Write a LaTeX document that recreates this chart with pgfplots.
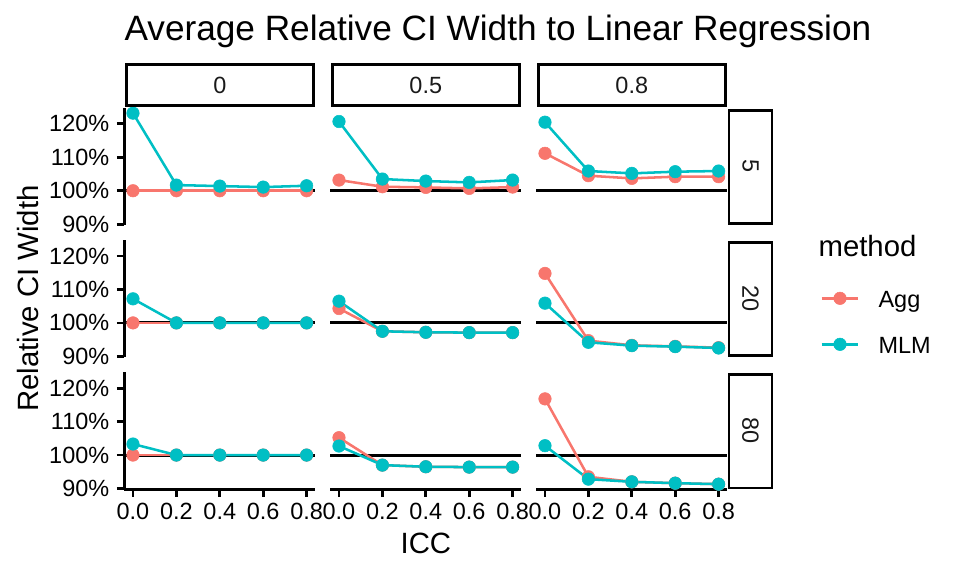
\documentclass[border=0pt]{standalone}
\usepackage{pgfplots}
\pgfplotsset{compat=1.18}
\usepackage{pgfplotstable}
\usepackage{fontspec}
\setmainfont{Liberation Sans}
\definecolor{agg}{HTML}{F8766D}
\definecolor{mlm}{HTML}{00BFC4}
\definecolor{striptext}{HTML}{1A1A1A}

% rows: cluster size 5, 20, 80 ; columns: 0, 0.5, 0.8
\pgfplotstableread{
x agg mlm
0.0 100.0 123.2
0.2 100.0 101.7
0.4 100.0 101.4
0.6 100.0 101.1
0.8 100.0 101.5
}\tAa
\pgfplotstableread{
x agg mlm
0.0 103.2 120.7
0.2 101.2 103.5
0.4 101.0 102.9
0.6 100.7 102.5
0.8 101.1 103.2
}\tAb
\pgfplotstableread{
x agg mlm
0.0 111.2 120.5
0.2 104.5 105.9
0.4 103.7 105.2
0.6 104.2 105.7
0.8 104.2 105.9
}\tAc
\pgfplotstableread{
x agg mlm
0.0 100.0 107.2
0.2 100.0 100.0
0.4 100.0 100.0
0.6 100.0 100.0
0.8 100.0 100.0
}\tBa
\pgfplotstableread{
x agg mlm
0.0 104.3 106.5
0.2 97.5 97.5
0.4 97.2 97.2
0.6 97.1 97.1
0.8 97.1 97.1
}\tBb
\pgfplotstableread{
x agg mlm
0.0 114.8 105.9
0.2 94.7 94.2
0.4 93.3 93.2
0.6 93.0 92.9
0.8 92.6 92.5
}\tBc
\pgfplotstableread{
x agg mlm
0.0 100.0 103.3
0.2 100.0 100.0
0.4 100.0 100.0
0.6 100.0 100.0
0.8 100.0 100.0
}\tCa
\pgfplotstableread{
x agg mlm
0.0 105.2 102.7
0.2 97.0 97.0
0.4 96.5 96.5
0.6 96.4 96.4
0.8 96.4 96.4
}\tCb
\pgfplotstableread{
x agg mlm
0.0 116.8 102.8
0.2 93.5 92.8
0.4 92.0 92.0
0.6 91.6 91.6
0.8 91.3 91.3
}\tCc

\pgfplotsset{
  panel/.style={
    scale only axis, width=143.25pt, height=88.05pt, anchor=north west,
    xmin=-0.04, xmax=0.84, ymin=89.7, ymax=124.8, clip=false,
    axis line style={-, line width=2.1pt, black},
    tick align=outside, major tick length=5.5pt,
    tick style={line width=2.1pt, black},
    xtick={0,0.2,0.4,0.6,0.8}, xticklabels={0.0,0.2,0.4,0.6,0.8},
    ytick={90,100,110,120}, yticklabels={90\%,100\%,110\%,120\%},
    ticklabel style={font=\fontsize{17.6}{20}\selectfont, text=black},
    xticklabel style={inner sep=0pt, yshift=-4.6pt},
    yticklabel style={inner sep=0pt, xshift=-5.6pt},
  },
  showx/.style={axis x line*=bottom},
  showy/.style={axis y line*=left},
  linestyle/.style={line width=1.9pt},
  dotstyle/.style={only marks, mark=*, mark size=4.7pt, mark options={draw=none, fill=#1}},
}

\newcommand\panel[4]{%
\begin{axis}[panel, at={(#1pt,#2pt)}, #3]
  \addplot[black, line width=2.2pt] coordinates {(-0.04,100) (0.84,100)};
  \addplot[agg, linestyle] table[x=x,y=agg]{#4};
  \addplot[mlm, linestyle] table[x=x,y=mlm]{#4};
  \addplot[agg, dotstyle=agg] table[x=x,y=agg]{#4};
  \addplot[mlm, dotstyle=mlm] table[x=x,y=mlm]{#4};
\end{axis}}

\begin{document}
\begin{tikzpicture}
\path[use as bounding box] (0,0) rectangle (720pt,-432pt);

\panel{93.225}{-80.85}{showy, hide x axis}{\tAa}
\panel{247.725}{-80.85}{hide y axis, hide x axis}{\tAb}
\panel{402.225}{-80.85}{hide y axis, hide x axis}{\tAc}
\panel{93.225}{-179.9625}{showy, hide x axis}{\tBa}
\panel{247.725}{-179.9625}{hide y axis, hide x axis}{\tBb}
\panel{402.225}{-179.9625}{hide y axis, hide x axis}{\tBc}
\panel{93.225}{-279.075}{showy, showx}{\tCa}
\panel{247.725}{-279.075}{hide y axis, showx}{\tCb}
\panel{402.225}{-279.075}{hide y axis, showx}{\tCc}

% overlay in pixel coordinates
\begin{axis}[at={(0pt,0pt)}, anchor=north west, scale only axis, width=720pt, height=432pt,
  xmin=0, xmax=960, ymin=0, ymax=576, y dir=reverse, hide axis, clip=false]
  % top strips
  \draw[line width=2.1pt, fill=white] (axis cs:126.5,64.7) rectangle (axis cs:313.4,105.8);
  \draw[line width=2.1pt, fill=white] (axis cs:332.5,64.7) rectangle (axis cs:519.4,105.8);
  \draw[line width=2.1pt, fill=white] (axis cs:538.5,64.7) rectangle (axis cs:725.4,105.8);
  \node[font=\fontsize{17.6}{20}\selectfont, text=striptext] at (axis cs:219.8,85.3) {0};
  \node[font=\fontsize{17.6}{20}\selectfont, text=striptext] at (axis cs:425.8,85.3) {0.5};
  \node[font=\fontsize{17.6}{20}\selectfont, text=striptext] at (axis cs:631.8,85.3) {0.8};
  % right strips
  \draw[line width=2.1pt, fill=white] (axis cs:729,110.3) rectangle (axis cs:772,223.7);
  \draw[line width=2.1pt, fill=white] (axis cs:729,242.45) rectangle (axis cs:772,355.85);
  \draw[line width=2.1pt, fill=white] (axis cs:729,374.6) rectangle (axis cs:772,488);
  \node[rotate=-90, font=\fontsize{17.6}{20}\selectfont, text=striptext] at (axis cs:750.5,166.5) {5};
  \node[rotate=-90, font=\fontsize{17.6}{20}\selectfont, text=striptext] at (axis cs:750.5,298.65) {20};
  \node[rotate=-90, font=\fontsize{17.6}{20}\selectfont, text=striptext] at (axis cs:750.5,430.8) {80};
  % titles
  \node[anchor=base west, inner sep=0pt, font=\fontsize{26.4}{30}\selectfont] at (axis cs:124.3,40.7) {Average Relative CI Width to Linear Regression};
  \node[rotate=90, font=\fontsize{22}{26}\selectfont] at (axis cs:28,298.6) {Relative CI Width};
  \node[anchor=base, inner sep=0pt, font=\fontsize{22}{26}\selectfont] at (axis cs:425.9,553) {ICC};
  % legend
  \node[anchor=base west, inner sep=0pt, font=\fontsize{22}{26}\selectfont] at (axis cs:818.3,256) {method};
  \addplot[agg, linestyle] coordinates {(821.7,298.3) (858.3,298.3)};
  \addplot[agg, dotstyle=agg] coordinates {(840,298.3)};
  \addplot[mlm, linestyle] coordinates {(821.7,344.3) (858.3,344.3)};
  \addplot[mlm, dotstyle=mlm] coordinates {(840,344.3)};
  \node[anchor=base west, inner sep=0pt, font=\fontsize{17.6}{20}\selectfont] at (axis cs:878.3,307) {Agg};
  \node[anchor=base west, inner sep=0pt, font=\fontsize{17.6}{20}\selectfont] at (axis cs:878.3,353) {MLM};
\end{axis}
\end{tikzpicture}
\end{document}
